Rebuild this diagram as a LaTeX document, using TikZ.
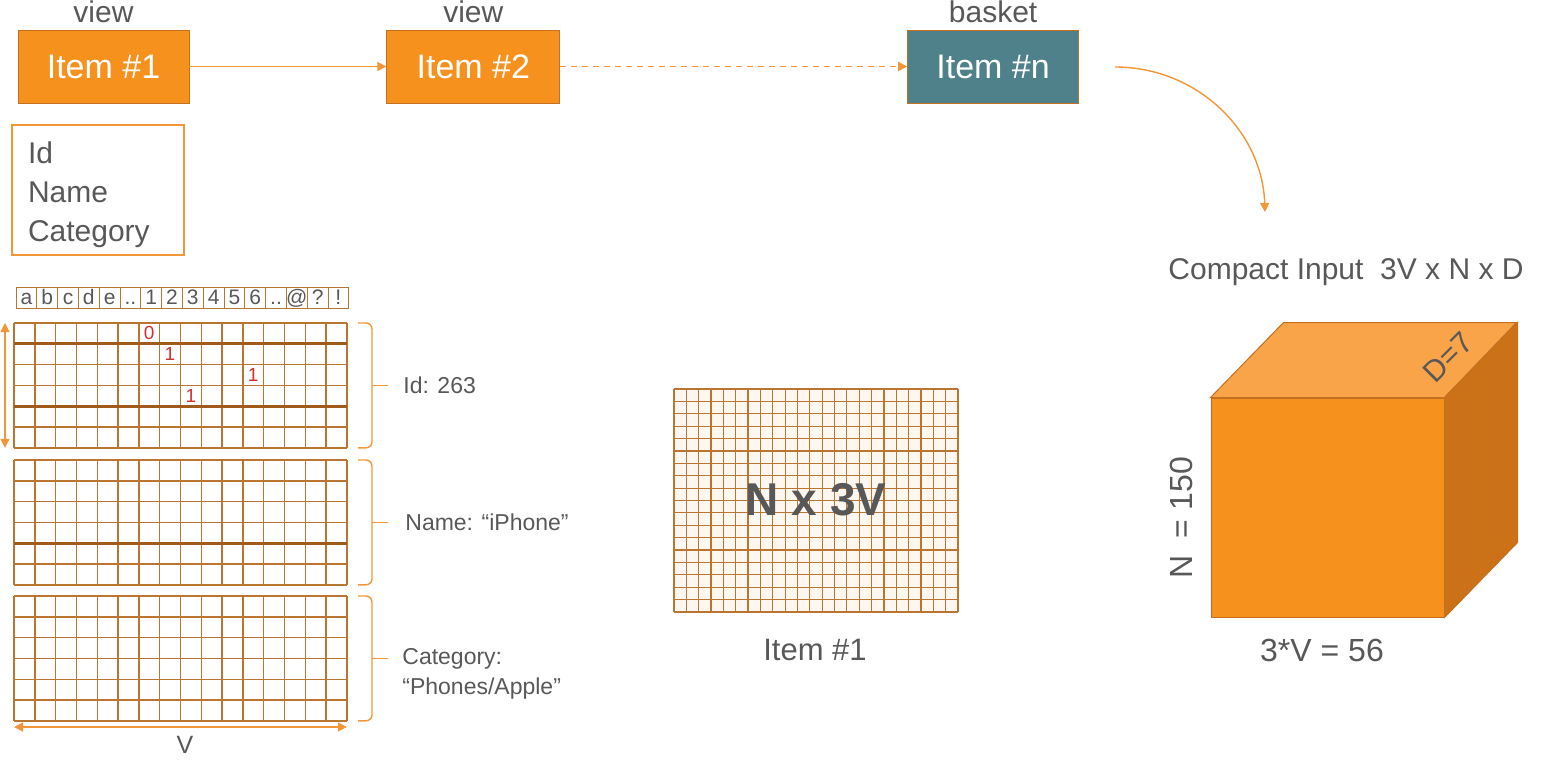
\documentclass[tikz,border=0pt]{standalone}
\usepackage{fontspec}
\setmainfont{Liberation Sans}
\usetikzlibrary{positioning,arrows.meta}

\definecolor{boxorange}{RGB}{247,145,30}
\definecolor{edgeorange}{RGB}{196,112,32}
\definecolor{linkorange}{RGB}{243,150,55}
\definecolor{basketteal}{RGB}{78,129,137}
\definecolor{txtgray}{RGB}{88,88,88}
\definecolor{gridbrown}{RGB}{186,118,48}
\definecolor{thickbrown}{RGB}{160,90,26}
\definecolor{digitred}{RGB}{215,45,45}
\definecolor{cubetop}{RGB}{249,164,73}
\definecolor{cubeside}{RGB}{203,114,25}

\begin{document}
\begin{tikzpicture}
[
    x=0.5pt, y=-0.5pt,
    itemstyle/.style = {draw=edgeorange,
                        fill=boxorange,
                        minimum width=85.5pt,
                        minimum height=36.5pt,
                        inner sep=0pt,
                        text=white,
                        font=\fontsize{17}{20}\selectfont},
    tag/.style       = {text=txtgray,
                        inner sep=0pt,
                        font=\fontsize{15}{17}\selectfont},
    small/.style     = {text=txtgray,
                        inner sep=0pt,
                        font=\fontsize{11.5}{15}\selectfont},
    charcell/.style  = {draw=gridbrown,
                        minimum width=10.4pt,
                        minimum height=10.5pt,
                        inner sep=0pt,
                        text height=7.6pt,
                        text depth=0.6pt,
                        text=txtgray,
                        font=\fontsize{10.5}{11}\selectfont},
    digit/.style     = {text=digitred,
                        inner sep=0pt,
                        font=\fontsize{9.5}{10}\selectfont},
    gridline/.style  = {draw=gridbrown, line width=0.7pt},
    thickline/.style = {draw=thickbrown, line width=1.5pt},
    brk/.style       = {draw=linkorange, line width=0.7pt, rounded corners=3pt},
    arr/.style       = {draw=linkorange,
                        line width=0.7pt,
                        -{Triangle[length=4.5pt,width=4.5pt]}},
    darr/.style      = {draw=linkorange,
                        line width=0.7pt,
                        {Triangle[length=4.5pt,width=4.5pt]}-{Triangle[length=4.5pt,width=4.5pt]}}
]

\useasboundingbox (0,0) rectangle (1547,760);

% item sequence
\node (it1) [itemstyle] at (103.5,66.5) {Item \#1};
\node (it2) [itemstyle, right=98.5pt of it1, minimum width=86.5pt] {Item \#2};
\node (itn) [itemstyle, fill=basketteal, right=173.5pt of it2] {Item \#n};

\node (v1) [tag, above=3pt of it1] {view};
\node (v2) [tag, above=3pt of it2] {view};
\node (bk) [tag, above=3pt of itn] {basket};

\draw[arr] (it1) -- (it2);
\draw[arr, dash pattern=on 3pt off 2.5pt] (it2) -- (itn);

\coordinate (cstart) at (1115,67);
\coordinate (cend) at (1265,212);
\draw[arr] (cstart) to [out=0, in=92] (cend);

% item fields
\node (flds) [draw=linkorange, line width=0.7pt, text=txtgray,
              minimum width=86pt, minimum height=65pt,
              text width=70pt, inner xsep=8pt, align=left,
              font=\fontsize{15}{19.5}\selectfont] at (98,190)
              {\rule{0pt}{16pt}Id\\Name\\Category};

% character header
\foreach \c [count=\i from 0] in {a,b,c,d,e,{..},1,2,3,4,5,6,{..},@,?,!}
    \node (ch\i) [charcell] at ({26.4+20.8*\i},297.5) {\c};

% one-hot grids
\foreach \gy in {323,460,596} {
    \foreach \k in {0,...,16}
        \draw[gridline] ({14+20.8*\k},\gy) -- ++(0,124.8);
    \foreach \k in {0,...,6}
        \draw[gridline] (14,{\gy+20.8*\k}) -- ++(332.8,0);
    \draw[brk] (358,\gy) -- (372,\gy) -- (372,\gy+124.8) -- (358,\gy+124.8);
    \draw[brk] (372,\gy+62.4) -- (388,\gy+62.4);
}
\draw[thickline] (14,343.8) -- ++(332.8,0);
\draw[thickline] (14,406.2) -- ++(332.8,0);
\draw[thickline] (14,543.2) -- ++(332.8,0);

\node (d0) [digit] at (149.2,333.4) {0};
\node (d1) [digit] at (170,354.2) {1};
\node (d2) [digit] at (253.2,375) {1};
\node (d3) [digit] at (190.8,395.8) {1};

\node (lid) [small, anchor=west] at (403,385.4) {Id: 263};
\node (lname) [small, anchor=west] at (405,522.4) {Name: “iPhone”};
\node (lcat) [small, anchor=west, align=left] at (402,674) {Category:\\“Phones/Apple”};

\coordinate (vtop) at (5,323);
\coordinate (vbot) at (5,447.8);
\draw[darr] (vtop) -- (vbot);

\coordinate (hl) at (14,727);
\coordinate (hr) at (346.8,727);
\draw[darr] (hl) -- (hr);
\node (vlab) [small, font=\fontsize{12.5}{15}\selectfont] at (185,745) {V};

% N x 3V matrix
\fill[boxorange!7] (674,389) rectangle (958,612);
\foreach \k in {0,...,23}
    \draw[gridline, line width=0.6pt] ({674+284/23*\k},389) -- ++(0,223);
\foreach \k in {0,...,18}
    \draw[gridline, line width=0.6pt] (674,{389+223/18*\k}) -- ++(284,0);

\node (nx) [text=txtgray, font=\fontsize{23}{26}\selectfont\bfseries] at (816,500) {N x 3V};
\node (gcap) [tag, font=\fontsize{15.5}{18}\selectfont] at (815,650) {Item \#1};

% compact cube
\node (front) [draw=edgeorange, line width=0.5pt, fill=boxorange,
               minimum width=116.5pt, minimum height=109.5pt] at (1327.5,507.5) {};
\filldraw[fill=cubetop, draw=edgeorange, line width=0.5pt]
    (front.north west) -- ++(73,-75) -- ++(233,0) -- (front.north east) -- cycle;
\filldraw[fill=cubeside, draw=edgeorange, line width=0.5pt]
    (front.north east) -- ++(73,-75) -- ++(0,220) -- (front.south east) -- cycle;

\node (dlab) [tag, font=\fontsize{15}{17}\selectfont, rotate=45] at (1448,357) {D=7};
\node (nlab) [tag, font=\fontsize{16}{18}\selectfont, rotate=90] at (1181,518) {N \ = 150};
\node (vdim) [tag, font=\fontsize{16}{18}\selectfont] at (1322,650) {3*V = 56};
\node (title) [tag, font=\fontsize{15}{18}\selectfont] at (1346,272) {Compact Input \ 3V x N x D};

\end{tikzpicture}
\end{document}
